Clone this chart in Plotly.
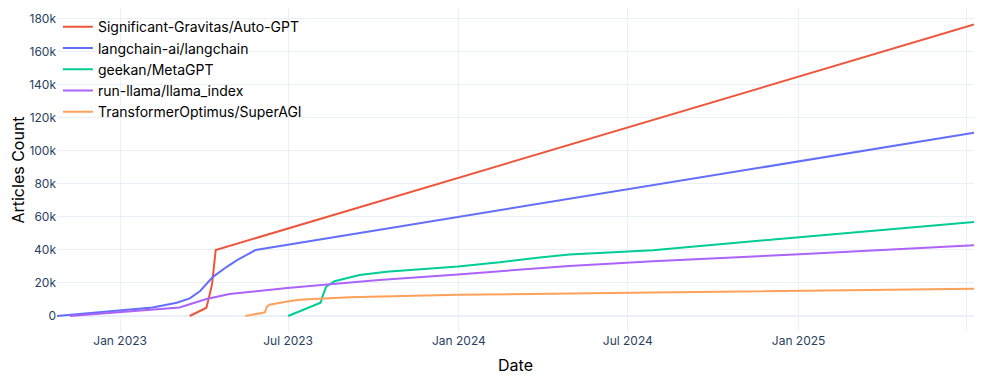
import plotly.graph_objects as go

autogpt_dates = ["2023-03-17", "2023-04-04", "2023-04-10", "2023-04-14", "2025-07-09"]
autogpt_counts = [0, 5000, 19000, 40000, 176600]

langchain_dates = ["2022-10-25", "2023-02-05", "2023-03-03", "2023-03-17", "2023-03-28",
                   "2023-04-11", "2023-04-26", "2023-05-07", "2023-05-27", "2025-07-09"]
langchain_counts = [0, 5200, 8000, 10700, 15000, 23700, 29800, 33800, 40000, 111000]

metagpt_dates = ["2023-07-01", "2023-08-05", "2023-08-07", "2023-08-11", "2023-08-20",
                 "2023-09-16", "2023-10-15", "2023-12-31", "2024-02-14", "2024-03-28",
                 "2024-04-29", "2024-07-28", "2025-07-09"]
metagpt_counts = [0, 8000, 11700, 17700, 21100, 24800, 26800, 30000, 32500, 35500,
                  37200, 39900, 57000]

llama_dates = ["2022-11-08", "2023-03-06", "2023-04-04", "2023-04-29", "2023-06-30",
               "2023-10-07", "2023-12-31", "2024-04-29", "2024-07-28", "2025-01-02", "2025-07-09"]
llama_counts = [0, 5200, 10300, 13300, 17000, 21800, 25200, 30300, 33200, 37400, 42900]

superagi_dates = ["2023-05-16", "2023-06-06", "2023-06-08", "2023-06-11", "2023-06-27",
                  "2023-07-13", "2023-09-05", "2023-12-31", "2024-07-28", "2025-01-02", "2025-07-09"]
superagi_counts = [0, 2200, 5500, 6800, 8500, 9800, 11300, 12800, 14300, 15300, 16500]

tick_dates = ["2023-01-01", "2023-07-01", "2024-01-01", "2024-07-01", "2025-01-01", "2025-07-01"]
tick_labels = ["Jan 2023", "Jul 2023", "Jan 2024", "Jul 2024", "Jan 2025", ""]

series = [
    ("Significant-Gravitas/Auto-GPT", autogpt_dates, autogpt_counts, "#EF553B"),
    ("langchain-ai/langchain", langchain_dates, langchain_counts, "#636EFA"),
    ("geekan/MetaGPT", metagpt_dates, metagpt_counts, "#00CC96"),
    ("run-llama/llama_index", llama_dates, llama_counts, "#AB63FA"),
    ("TransformerOptimus/SuperAGI", superagi_dates, superagi_counts, "#FFA15A"),
]

fig = go.Figure()
for name, d, c, col in series:
    fig.add_trace(go.Scatter(x=d, y=c, mode="lines", name=name,
                             line=dict(color=col, width=2)))

# page body adds 8px, so the figure is a little smaller than the window
fig.update_layout(
    template="plotly_white",
    width=988, height=376,
    margin=dict(l=49, r=22, t=0, b=52),
    font=dict(family="Inter", size=12, color="#2a3f5f"),
    legend=dict(x=0.001, y=0.99, xanchor="left", yanchor="top",
                bgcolor="rgba(255,255,255,0)", font=dict(size=14, color="black")),
)
fig.update_xaxes(title=dict(text="Date", font=dict(size=16, color="black"), standoff=12),
                 tickvals=tick_dates, ticktext=tick_labels, automargin=False)
fig.update_yaxes(title=dict(text="Articles Count", font=dict(size=16, color="black")),
                 range=[-9700, 186600], dtick=20000, automargin=False)

fig.write_html("out.html")
